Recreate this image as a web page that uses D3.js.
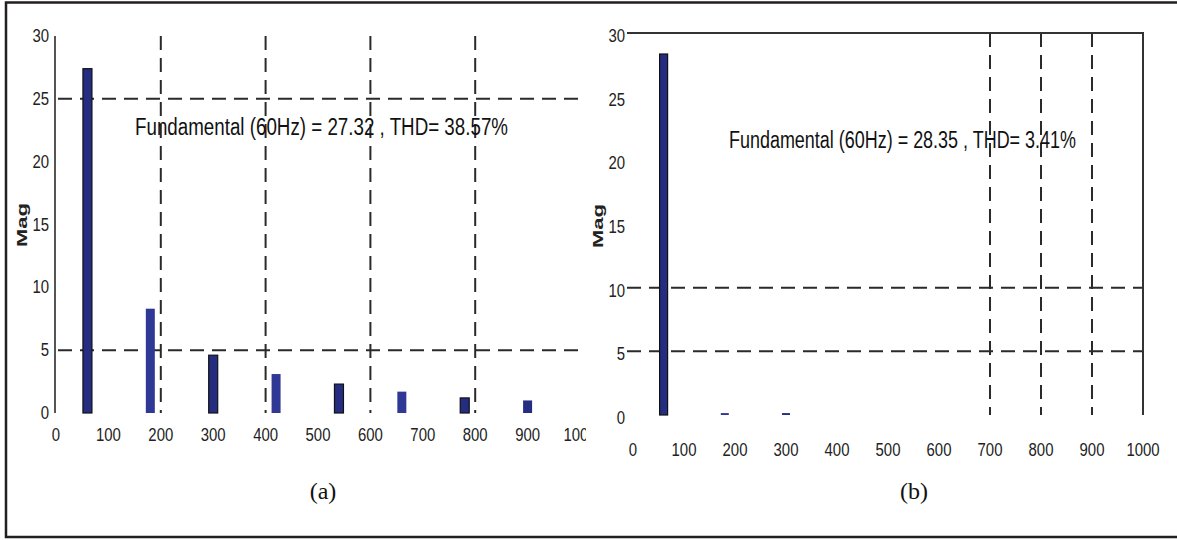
<!DOCTYPE html>
<html>
<head>
<meta charset="utf-8">
<script src="https://cdn.jsdelivr.net/npm/d3@7"></script>
<style>
  html, body { margin: 0; padding: 0; background: #fff; }
  svg { display: block; }
</style>
</head>
<body>
<svg width="1177" height="540"></svg>
<script>
// harmonic frequencies (Hz) and magnitudes
const freqs = [60, 180, 300, 420, 540, 660, 780, 900];
const magA = [27.4, 8.3, 4.6, 3.1, 2.3, 1.7, 1.2, 1.0];
const magB = [28.35, 0.15, 0.15, 0, 0, 0, 0, 0];

const xTicks = [0, 100, 200, 300, 400, 500, 600, 700, 800, 900, 1000];
const yTicks = [0, 5, 10, 15, 20, 25, 30];

const gridXA = [200, 400, 600, 800];
const gridYA = [5, 25];
const gridXB = [700, 800, 900];
const gridYB = [5, 10];

const noteA = "Fundamental (60Hz) = 27.32 , THD= 38.57%";
const noteB = "Fundamental (60Hz) = 28.35 , THD= 3.41%";

const svg = d3.select("svg");
const narrow = "'Liberation Sans Narrow', 'Arial Narrow', 'Liberation Sans', Arial, sans-serif";

// outer frame (right edge runs off the picture)
svg.append("rect")
    .attr("x", 6).attr("y", 2.5)
    .attr("width", 1190).attr("height", 534.5)
    .attr("fill", "none")
    .attr("stroke", "#231f20")
    .attr("stroke-width", 2.5);

svg.append("defs").append("clipPath").attr("id", "clipA")
  .append("rect").attr("x", 0).attr("y", 0).attr("width", 586).attr("height", 540);

// condensed tick text: tall glyphs squeezed to ~8.3px per digit
function tickText(sel) {
    sel.attr("font-family", narrow)
        .attr("font-size", 18)
        .attr("fill", "#222")
        .attr("lengthAdjust", "spacingAndGlyphs")
        .attr("textLength", d => String(d).length * 8.3)
        .text(d => d);
}

function drawPanel(opt) {
    const g = svg.append("g").attr("clip-path", opt.clip ? "url(#" + opt.clip + ")" : null);

    const x = d3.scaleLinear().domain([0, 1000]).range([opt.x0, opt.x1]);
    const y = d3.scaleLinear().domain([0, 30]).range([opt.y0, opt.y1]);

    const dash = "14,8";

    // dashed grid
    g.selectAll(".gx").data(opt.gridX).enter().append("line")
        .attr("x1", d => x(d)).attr("x2", d => x(d))
        .attr("y1", y(30)).attr("y2", y(0))
        .attr("stroke", "#2a2a2a").attr("stroke-width", 2)
        .attr("stroke-dasharray", dash);

    g.selectAll(".gy").data(opt.gridY).enter().append("line")
        .attr("x1", opt.gridStart).attr("x2", x(1000))
        .attr("y1", d => y(d)).attr("y2", d => y(d))
        .attr("stroke", "#2a2a2a").attr("stroke-width", 2)
        .attr("stroke-dasharray", dash);

    // axis lines
    if (opt.leftAxis) {
        g.append("line")
            .attr("x1", opt.axisX).attr("x2", opt.axisX)
            .attr("y1", y(30)).attr("y2", y(0))
            .attr("stroke", "#555").attr("stroke-width", 2);
    }
    if (opt.box) {
        g.append("path")
            .attr("d", d3.line()([[x(0) - 6, y(30)], [x(1000), y(30)], [x(1000), y(0)]]))
            .attr("fill", "none")
            .attr("stroke", "#333").attr("stroke-width", 2);
    }

    // bars
    const bw = opt.barWidth;
    g.selectAll(".bar").data(freqs.map((f, i) => ({f: f, v: opt.values[i], i: i})).filter(d => d.v > 0))
        .enter().append("rect")
        .attr("x", d => x(d.f) - bw / 2)
        .attr("width", bw)
        .attr("y", d => y(d.v))
        .attr("height", d => y(0) - y(d.v))
        .attr("fill", d => d.i % 2 === 0 || d.i === freqs.length - 1 ? "#252d80" : "#2f3894")
        .attr("stroke", d => (d.i % 2 === 0 || d.i === freqs.length - 1) && d.v > 1 ? "#111" : "none")
        .attr("stroke-width", 1.2);

    // tick labels
    g.selectAll(".yt").data(yTicks).enter().append("text")
        .attr("x", opt.yLabelX)
        .attr("y", d => y(d) + 6 + opt.yLabelShift)
        .attr("text-anchor", "end")
        .call(tickText);

    g.selectAll(".xt").data(xTicks).enter().append("text")
        .attr("x", d => x(d))
        .attr("y", opt.xLabelY)
        .attr("text-anchor", "middle")
        .call(tickText);

    // axis title
    g.append("text")
        .attr("transform", "translate(" + opt.magX + "," + opt.magY + ") rotate(-90)")
        .attr("text-anchor", "middle")
        .attr("font-family", narrow)
        .attr("font-size", 15)
        .attr("font-weight", "bold")
        .attr("fill", "#222")
        .attr("textLength", 44)
        .attr("lengthAdjust", "spacingAndGlyphs")
        .text("Mag");

    // annotation
    g.append("text")
        .attr("x", opt.noteX)
        .attr("y", opt.noteY)
        .attr("textLength", opt.noteW)
        .attr("lengthAdjust", "spacingAndGlyphs")
        .attr("font-family", narrow)
        .attr("font-size", 23)
        .attr("fill", "#111")
        .text(opt.note);

    // caption
    svg.append("text")
        .attr("x", opt.capX)
        .attr("y", 499)
        .attr("text-anchor", "middle")
        .attr("font-family", "'Liberation Serif', 'Times New Roman', serif")
        .attr("font-size", 24)
        .attr("fill", "#111")
        .text(opt.caption);
}

drawPanel({
    clip: "clipA",
    x0: 56, x1: 580, y0: 413, y1: 36,
    gridX: gridXA, gridY: gridYA, gridStart: 58,
    leftAxis: true, axisX: 55, box: false,
    values: magA, barWidth: 9,
    yLabelX: 49, yLabelShift: 0, xLabelY: 441,
    magX: 27, magY: 225,
    note: noteA, noteX: 135, noteY: 135, noteW: 373,
    caption: "(a)", capX: 323
});

drawPanel({
    x0: 633, x1: 1143, y0: 415, y1: 33,
    gridX: gridXB, gridY: gridYB, gridStart: 627,
    leftAxis: false, box: true,
    values: magB, barWidth: 8,
    yLabelX: 625, yLabelShift: 3, xLabelY: 456,
    magX: 603, magY: 226,
    note: noteB, noteX: 729, noteY: 148, noteW: 347,
    caption: "(b)", capX: 914
});
</script>
</body>
</html>
